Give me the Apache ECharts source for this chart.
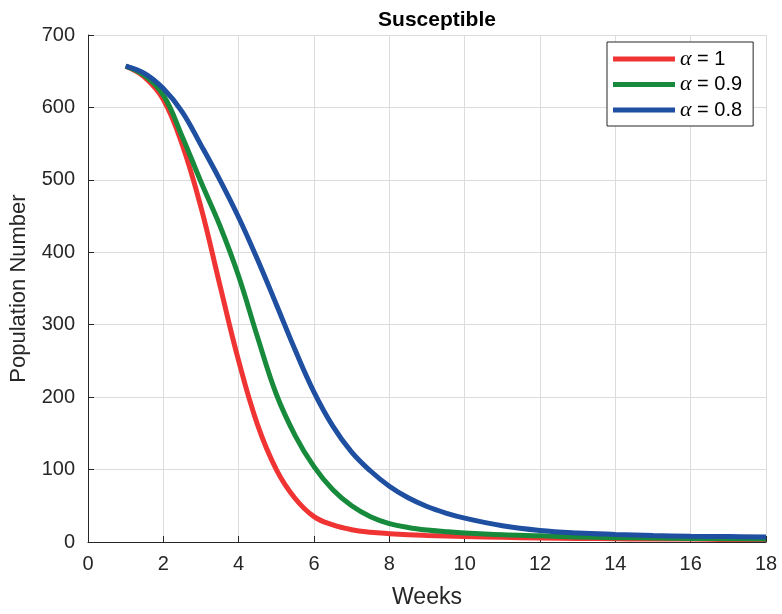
<!DOCTYPE html>
<html>
<head>
<meta charset="utf-8">
<script src="https://cdn.jsdelivr.net/npm/echarts@6/dist/echarts.min.js"></script>
<style>
	html, body { margin: 0; padding: 0; background: #fff; }
	#chart { width: 782px; height: 614px; }
</style>
</head>
<body>
<div id="chart"></div>
<script>
// weeks (x)
var weeks = [1, 1.5, 2, 2.5, 3, 3.5, 4, 4.5, 5, 5.5, 6, 6.5, 7, 7.5, 8, 8.5, 9, 9.5, 10, 11, 12, 13, 14, 15, 16, 17, 18];
// alpha = 1
var s10 = [657, 642, 611, 549, 462, 355, 250, 162, 100, 60, 35, 23.5, 17, 13.5, 11.5, 10, 9, 8.2, 7.5, 6.5, 5.5, 5, 4.5, 4, 4, 3.5, 3.5];
// alpha = 0.9
var s09 = [657, 644, 617, 560, 497, 437, 367, 283, 204, 147, 104, 72, 50, 35, 25.5, 20, 16.5, 14.3, 12.5, 10, 8.5, 7, 6, 5.5, 5, 4.5, 4];
// alpha = 0.8
var s08 = [657, 647, 626, 594, 548, 500, 448, 390, 328, 265, 207, 160, 124, 98, 77, 61, 49, 40, 33, 22.5, 16, 12.5, 10.5, 9, 8, 7.5, 7];

var alphas = ["1", "0.9", "0.8"];
var colors = ["#F03434", "#178A3C", "#1F4FA0"];
var xTicks = { min: 0, max: 18, step: 2 };
var yTicks = { min: 0, max: 700, step: 100 };

function pairs(ys) {
	var arr = [];
	for (var i = 0; i < weeks.length; i++) {
		arr.push([weeks[i], ys[i]]);
	}
	return arr;
}

var axisColor = "#262626";
var font = "'Liberation Sans', Arial, sans-serif";

var seriesList = [s10, s09, s08].map(function (ys, i) {
	return {
		name: "α = " + alphas[i],
		type: "line",
		data: pairs(ys),
		smooth: 0.4,
		showSymbol: false,
		lineStyle: { width: 5, color: colors[i] },
		itemStyle: { color: colors[i] }
	};
});

var option = {
	backgroundColor: "#fff",
	animation: false,
	title: {
		text: "Susceptible",
		left: 432,
		textAlign: "center",
		top: 5,
		textStyle: { fontFamily: font, fontWeight: "bold", fontSize: 21, color: "#000" }
	},
	grid: { left: 85, right: 16, top: 35, bottom: 71 },
	legend: {
		orient: "vertical",
		left: 607,
		top: 42,
		icon: "rect",
		itemWidth: 62,
		itemHeight: 5,
		itemGap: 3.5,
		padding: [6, 11, 5, 6],
		borderColor: axisColor,
		borderWidth: 1,
		backgroundColor: "#fff",
		data: seriesList.map(function (s) { return s.name; }),
		formatter: function (name) {
			return "{a|α}{b|" + name.slice(1) + "}";
		},
		textStyle: {
			fontFamily: font,
			fontSize: 20,
			color: "#000",
			rich: {
				a: { fontFamily: "'Liberation Serif', serif", fontStyle: "italic", fontSize: 22, lineHeight: 21, color: "#000" },
				b: { fontFamily: font, fontSize: 20, lineHeight: 21, color: "#000" }
			}
		}
	},
	xAxis: {
		type: "value",
		min: xTicks.min,
		max: xTicks.max,
		interval: xTicks.step,
		name: "Weeks",
		nameLocation: "middle",
		nameGap: 44,
		nameTextStyle: { fontFamily: font, fontSize: 23, color: axisColor },
		axisLine: { show: true, onZero: false, lineStyle: { color: axisColor, width: 1 } },
		axisTick: { show: true, inside: true, length: 6, lineStyle: { color: axisColor } },
		axisLabel: { fontFamily: font, fontSize: 20, color: axisColor, margin: 12 },
		splitLine: { show: true, lineStyle: { color: "#dcdcdc", width: 1 } }
	},
	yAxis: {
		type: "value",
		min: yTicks.min,
		max: yTicks.max,
		interval: yTicks.step,
		name: "Population Number",
		nameLocation: "middle",
		nameGap: 58,
		nameRotate: 90,
		nameTextStyle: { fontFamily: font, fontSize: 22, color: axisColor },
		axisLine: { show: true, lineStyle: { color: axisColor, width: 1 } },
		axisTick: { show: true, inside: true, length: 6, lineStyle: { color: axisColor } },
		axisLabel: { fontFamily: font, fontSize: 20, color: axisColor, margin: 13 },
		splitLine: { show: true, lineStyle: { color: "#dcdcdc", width: 1 } }
	},
	series: seriesList
};

var myChart = echarts.init(document.getElementById("chart"));
myChart.setOption(option);
</script>
</body>
</html>
